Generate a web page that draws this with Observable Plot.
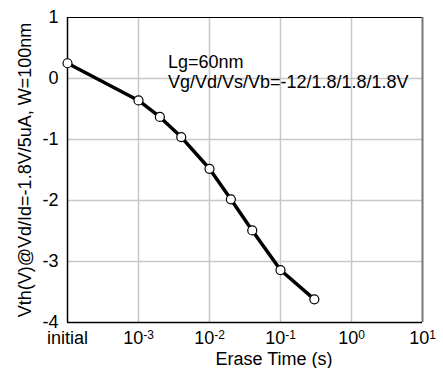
<!DOCTYPE html>
<html>
<head>
<meta charset="utf-8">
<script src="https://cdn.jsdelivr.net/npm/d3@7"></script>
<script src="https://cdn.jsdelivr.net/npm/@observablehq/plot@0.6"></script>
<style>
  html, body { margin: 0; padding: 0; background: #fff; }
  svg { display: block; }
</style>
</head>
<body>
<div id="chart"></div>
<script>
// Data
const eraseTime = [1e-4, 1e-3, 2e-3, 4e-3, 1e-2, 2e-2, 4e-2, 1e-1, 3e-1]; // 1e-4 = "initial"
const vth = [0.25, -0.36, -0.63, -0.96, -1.48, -1.98, -2.49, -3.14, -3.62];
const xTicks = [1e-4, 1e-3, 1e-2, 1e-1, 1e0, 1e1];
const xTickLabels = ["initial", "10^-3", "10^-2", "10^-1", "10^0", "10^1"];
const xGrid = [1e-3, 1e-2, 1e-1, 1e0];
const yTicks = [1, 0, -1, -2, -3, -4];
const yGrid = [0, -1, -2, -3];
const xLabel = "Erase Time (s)";
const yLabel = "Vth(V)@Vd/Id=-1.8V/5uA, W=100nm";
const notes = ["Lg=60nm", "Vg/Vd/Vs/Vb=-12/1.8/1.8/1.8V"];
const noteX = [2.6e-3, 2.6e-3];
const noteY = [0.27, -0.06];

const data = eraseTime.map((t, i) => ({t, v: vth[i]}));
const noteData = notes.map((s, i) => ({s, x: noteX[i], y: noteY[i]}));
const font = "Liberation Sans, Arial, sans-serif";

const chart = Plot.plot({
  width: 443,
  height: 368,
  marginLeft: 67,
  marginRight: 21,
  marginTop: 17,
  marginBottom: 46,
  style: {fontFamily: font, fontSize: "18px", background: "#fff", color: "#000"},
  x: {type: "log", domain: [1e-4, 1e1]},
  y: {domain: [-4, 1]},
  marks: [
    Plot.ruleX(xGrid, {stroke: "#c8c8c8", strokeWidth: 1.5}),
    Plot.ruleY(yGrid, {stroke: "#c8c8c8", strokeWidth: 1.5}),
    // frame
    Plot.ruleY([1], {stroke: "#000", strokeWidth: 1}),
    Plot.ruleX([1e1], {stroke: "#777", strokeWidth: 2}),
    Plot.ruleX([1e-4], {stroke: "#000", strokeWidth: 1.5}),
    Plot.ruleY([-4], {stroke: "#000", strokeWidth: 1.5}),
    Plot.axisX(xTicks, {
      tickSize: 0, tickPadding: 9, fontSize: 18,
      tickFormat: (d) => xTickLabels[xTicks.indexOf(d)],
      label: null
    }),
    Plot.axisY(yTicks, {
      tickSize: 0, tickPadding: 9, fontSize: 18,
      tickFormat: (d) => String(d),
      label: null
    }),
    Plot.text([yLabel], {frameAnchor: "left", rotate: -90, dx: -42, textAnchor: "middle", fontSize: 18}),
    Plot.text([xLabel], {frameAnchor: "bottom", dx: 29, dy: 37, textAnchor: "middle", lineAnchor: "middle", fontSize: 18}),
    Plot.line(data, {x: "t", y: "v", stroke: "#000", strokeWidth: 3.5}),
    Plot.dot(data, {x: "t", y: "v", r: 4.5, fill: "#fff", stroke: "#000", strokeWidth: 1.2}),
    Plot.text(noteData, {x: "x", y: "y", text: "s", textAnchor: "start", fontSize: 18})
  ]
});

// Render superscripts for power-of-ten tick labels
d3.select(chart).selectAll('g[aria-label="x-axis tick label"] text').each(function() {
  const el = d3.select(this);
  const s = el.text();
  if (s.startsWith("10^")) {
    el.text("10");
    el.append("tspan").attr("dy", "-0.45em").attr("font-size", "12px").text(s.slice(3));
  }
});

document.getElementById("chart").appendChild(chart);
</script>
</body>
</html>
